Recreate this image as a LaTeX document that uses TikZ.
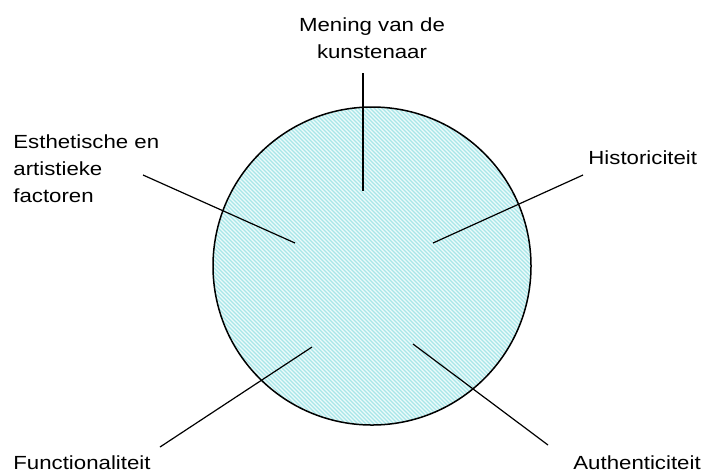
\documentclass[tikz,border=0pt]{standalone}
\usepackage{fontspec}
\setmainfont[FakeStretch=1.17]{Liberation Sans}
\usetikzlibrary{positioning}
\definecolor{discbg}{RGB}{236,251,251}
\definecolor{hatch}{RGB}{168,230,232}

\begin{document}
\begin{tikzpicture}[
      x=0.5pt, y=-0.5pt,
      lbl/.style={font=\fontsize{9.5}{13.5}\selectfont, inner sep=0pt},
      spoke/.style={line width=0.6pt, black},
      rim/.style={line width=0.75pt, black}
    ]
    \useasboundingbox (0,0) rectangle (704,473);

    % --- the disc ----------------------------------------------------------
    \coordinate (ctr) at (372,266);
    \begin{scope}
      \clip (ctr) circle[radius=159];
      \fill[discbg] (ctr) circle[radius=159];
      \foreach \k in {-232,-228,...,232}
        \draw[hatch, line width=0.6pt] (372+\k-250,16) -- ++(500,500);
    \end{scope}
    \draw[rim] (ctr) circle[radius=159];

    % --- labels ------------------------------------------------------------
    \node[lbl, align=center] (mening) at (372,38) {Mening van de\\kunstenaar};
    \node[lbl, align=left, anchor=west] (esth) at (13,169)
         {Esthetische en\\artistieke\\factoren};
    \node[lbl, anchor=west] (hist) at (588,158) {Historiciteit};
    \node[lbl, anchor=west] (func) at (13,463) {Functionaliteit};
    \node[lbl, anchor=west] (auth) at (573,463) {Authenticiteit};

    % --- spoke ends --------------------------------------------------------
    \coordinate (meningout) at (363,73);
    \coordinate (meningin)  at (363,191);
    \coordinate (esthout)   at (143,175);
    \coordinate (esthin)    at (295,243);
    \coordinate (histout)   at (583,175);
    \coordinate (histin)    at (433,243);
    \coordinate (funcout)   at (160,447);
    \coordinate (funcin)    at (312,347);
    \coordinate (authout)   at (548,445);
    \coordinate (authin)    at (413,344);

    % --- spokes ------------------------------------------------------------
    \draw[spoke] (meningout) -- (meningin);
    \draw[spoke] (esthout) -- (esthin);
    \draw[spoke] (histout) -- (histin);
    \draw[spoke] (funcout) -- (funcin);
    \draw[spoke] (authout) -- (authin);
  \end{tikzpicture}
\end{document}
